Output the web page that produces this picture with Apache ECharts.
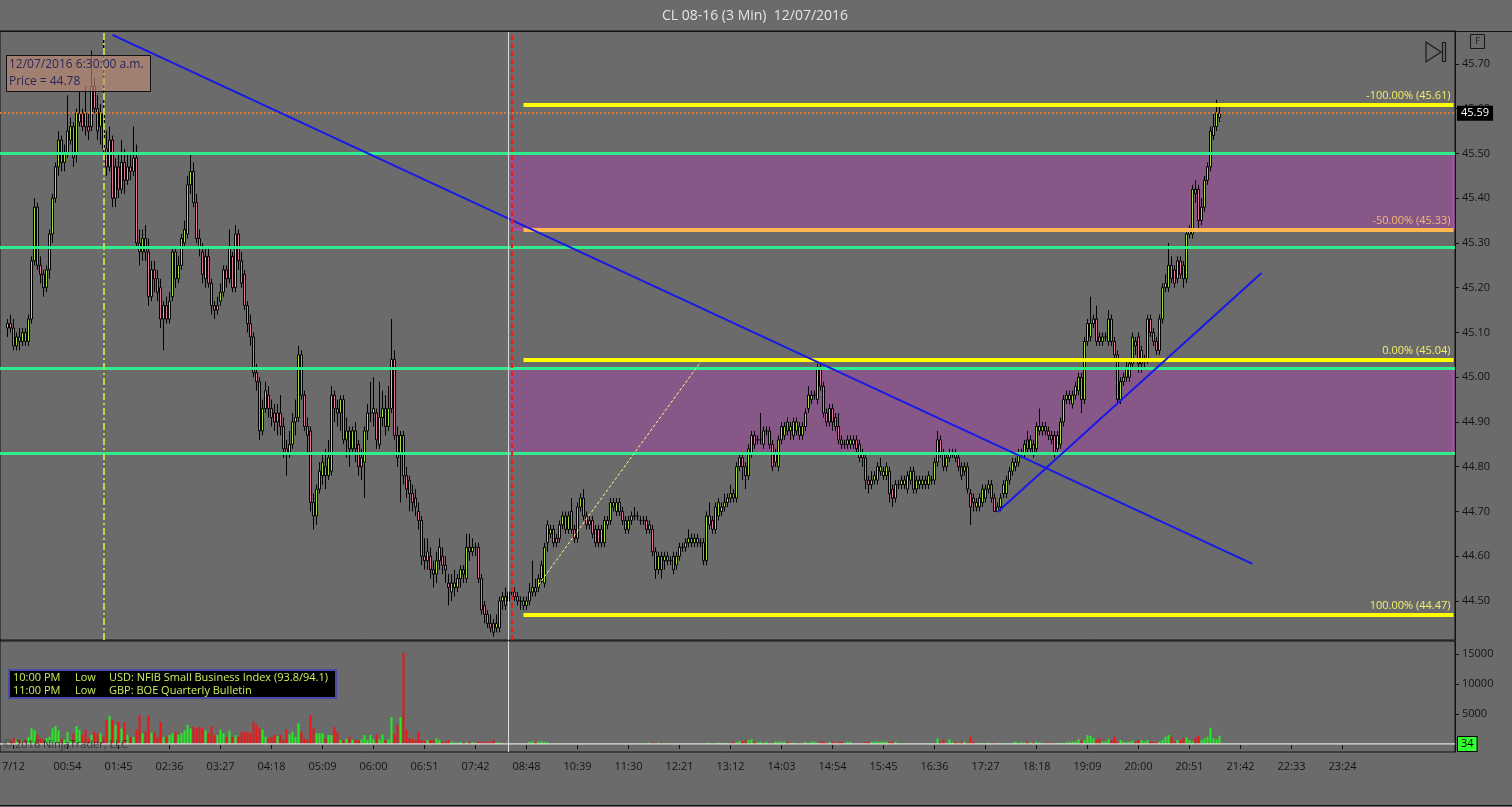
<!DOCTYPE html>
<html><head><meta charset="utf-8">
<script src="https://cdn.jsdelivr.net/npm/echarts@6/dist/echarts.min.js"></script>
<style>html,body{margin:0;padding:0;background:#6b6b6b;}#c{width:1512px;height:807px;}</style>
</head><body><div id="c"></div>
<script>
// ---------- data ----------
const FIRST_BAR = 2;      // index of first bar on the category axis
const BAR_SLOTS = 485;    // number of 3-min slots across the chart
const tickLabels = ['7/12','00:54','01:45','02:36','03:27','04:18','05:09','06:00','06:51','07:42','08:48','10:39','11:30','12:21','13:12','14:03','14:54','15:45','16:36','17:27','18:18','19:09','20:00','20:51','21:42','22:33','23:24'];
const priceTicks = [44.5,44.6,44.7,44.8,44.9,45.0,45.1,45.2,45.3,45.4,45.5,45.6,45.7];
const volumeTicks = [5000,10000,15000];

const opens = [
45.11,45.12,45.11,45.07,45.09,45.08,45.10,45.08,45.13,45.26,
45.38,45.25,45.23,45.20,45.24,45.32,45.40,45.47,45.53,45.48,
45.50,45.53,45.56,45.50,45.57,45.59,45.59,45.56,45.56,45.65,
45.60,45.56,45.59,45.51,45.47,45.53,45.40,45.47,45.42,45.48,
45.44,45.47,45.46,45.49,45.30,45.28,45.31,45.28,45.18,45.24,
45.22,45.20,45.13,45.16,45.13,45.18,45.28,45.22,45.25,45.30,
45.32,45.43,45.46,45.39,45.31,45.28,45.22,45.27,45.21,45.16,
45.15,45.17,45.19,45.24,45.22,45.27,45.20,45.32,45.26,45.23,
45.16,45.12,45.09,45.01,44.99,44.88,44.93,44.96,44.93,44.92,
44.90,44.92,44.89,44.84,44.83,44.85,44.90,44.91,45.05,44.96,
44.89,44.88,44.72,44.69,44.75,44.78,44.80,44.78,44.79,44.96,
44.93,44.92,44.95,44.86,44.88,44.84,44.88,44.85,44.80,44.81,
44.88,44.92,44.92,44.92,44.85,44.91,44.93,44.89,44.93,45.04,
44.87,44.83,44.87,44.78,44.77,44.74,44.73,44.70,44.68,44.60,
44.59,44.60,44.57,44.56,44.59,44.60,44.58,44.54,44.52,44.53,
44.53,44.55,44.57,44.55,44.62,44.61,44.62,44.62,44.55,44.49,
44.47,44.45,44.45,44.44,44.44,44.50,44.51,44.50,44.52,44.52,
44.51,44.50,44.50,44.49,44.50,44.52,44.53,44.53,44.55,44.54,
44.63,44.65,44.66,44.64,44.64,44.67,44.69,44.66,44.70,44.66,
44.64,44.71,44.73,44.69,44.67,44.68,44.66,44.66,44.63,44.63,
44.67,44.68,44.72,44.70,44.72,44.70,44.68,44.66,44.68,44.69,
44.69,44.68,44.68,44.68,44.66,44.66,44.61,44.57,44.60,44.59,
44.60,44.59,44.60,44.58,44.60,44.62,44.62,44.63,44.64,44.63,
44.64,44.63,44.63,44.59,44.67,44.68,44.66,44.69,44.70,44.71,
44.72,44.73,44.74,44.73,44.80,44.82,44.80,44.78,44.83,44.87,
44.86,44.86,44.85,44.88,44.88,44.85,44.81,44.80,44.86,44.87,
44.90,44.88,44.87,44.88,44.89,44.87,44.89,44.93,44.95,44.96,
44.95,45.02,44.98,44.92,44.90,44.93,44.91,44.89,44.86,44.85,
44.85,44.85,44.85,44.86,44.85,44.83,44.82,44.77,44.76,44.77,
44.77,44.79,44.78,44.78,44.79,44.75,44.73,44.76,44.76,44.76,
44.75,44.77,44.79,44.75,44.76,44.76,44.77,44.76,44.77,44.77,
44.81,44.86,44.83,44.80,44.82,44.83,44.83,44.82,44.80,44.79,
44.80,44.74,44.73,44.71,44.71,44.72,44.73,44.75,44.76,44.73,
44.70,44.71,44.74,44.74,44.77,44.79,44.80,44.81,44.83,44.83,
44.86,44.84,44.85,44.84,44.88,44.88,44.89,44.88,44.87,44.87,
44.84,44.85,44.90,44.95,44.95,44.94,44.96,44.97,45.00,44.95,
45.08,45.09,45.12,45.13,45.09,45.08,45.09,45.08,45.13,45.08,
45.05,44.95,44.99,45.00,45.00,45.03,45.08,45.09,45.03,45.04,
45.04,45.13,45.10,45.08,45.06,45.13,45.20,45.20,45.25,45.24,
45.22,45.26,45.25,45.22,45.32,45.32,45.42,45.42,45.35,45.38,
45.44,45.47,45.54,45.56,45.58];

const closes = [
45.12,45.11,45.07,45.09,45.08,45.10,45.08,45.13,45.26,45.38,
45.25,45.23,45.20,45.24,45.32,45.40,45.47,45.53,45.48,45.50,
45.55,45.56,45.49,45.59,45.59,45.56,45.56,45.55,45.65,45.60,
45.55,45.59,45.51,45.47,45.53,45.40,45.47,45.42,45.48,45.44,
45.47,45.46,45.49,45.30,45.28,45.31,45.28,45.18,45.24,45.22,
45.19,45.13,45.16,45.13,45.17,45.28,45.22,45.25,45.31,45.33,
45.43,45.46,45.39,45.31,45.29,45.23,45.27,45.21,45.16,45.15,
45.16,45.19,45.24,45.22,45.29,45.20,45.32,45.26,45.21,45.16,
45.12,45.09,45.01,44.99,44.88,44.93,44.97,44.93,44.91,44.90,
44.92,44.89,44.84,44.83,44.85,44.90,44.91,45.05,44.96,44.89,
44.87,44.72,44.69,44.75,44.79,44.81,44.78,44.82,44.96,44.93,
44.92,44.95,44.86,44.88,44.84,44.88,44.84,44.80,44.82,44.88,
44.92,44.92,44.93,44.86,44.91,44.93,44.89,44.93,45.04,44.87,
44.82,44.87,44.78,44.75,44.74,44.72,44.71,44.68,44.60,44.59,
44.61,44.57,44.56,44.59,44.62,44.58,44.57,44.53,44.54,44.54,
44.55,44.57,44.56,44.62,44.61,44.62,44.62,44.55,44.48,44.47,
44.45,44.44,44.43,44.45,44.50,44.51,44.49,44.52,44.52,44.51,
44.50,44.50,44.49,44.50,44.52,44.53,44.52,44.55,44.58,44.62,
44.67,44.66,44.63,44.63,44.67,44.69,44.66,44.69,44.66,44.64,
44.71,44.73,44.69,44.67,44.68,44.65,44.63,44.63,44.66,44.68,
44.68,44.72,44.71,44.72,44.70,44.68,44.66,44.68,44.69,44.69,
44.69,44.68,44.68,44.66,44.67,44.61,44.57,44.60,44.57,44.60,
44.59,44.59,44.57,44.60,44.62,44.62,44.63,44.64,44.63,44.64,
44.63,44.63,44.59,44.69,44.69,44.66,44.71,44.72,44.71,44.72,
44.73,44.74,44.73,44.80,44.82,44.80,44.78,44.84,44.87,44.85,
44.86,44.86,44.88,44.88,44.85,44.80,44.83,44.86,44.89,44.89,
44.88,44.89,44.90,44.90,44.87,44.89,44.92,44.96,44.96,44.96,
45.02,44.98,44.92,44.90,44.93,44.90,44.89,44.86,44.85,44.85,
44.86,44.86,44.86,44.84,44.82,44.82,44.77,44.76,44.77,44.78,
44.80,44.80,44.79,44.80,44.74,44.73,44.76,44.76,44.77,44.77,
44.78,44.79,44.75,44.77,44.77,44.77,44.76,44.78,44.77,44.81,
44.86,44.83,44.80,44.82,44.83,44.83,44.82,44.80,44.78,44.80,
44.75,44.71,44.72,44.72,44.73,44.75,44.75,44.76,44.73,44.70,
44.71,44.73,44.76,44.77,44.79,44.81,44.81,44.83,44.83,44.85,
44.84,44.86,44.83,44.89,44.89,44.89,44.88,44.87,44.86,44.83,
44.87,44.90,44.95,44.96,44.96,44.96,44.98,45.00,44.95,45.08,
45.12,45.12,45.13,45.08,45.08,45.09,45.09,45.13,45.08,45.05,
44.95,44.99,45.00,45.02,45.03,45.09,45.07,45.03,45.06,45.04,
45.13,45.10,45.08,45.06,45.13,45.20,45.21,45.25,45.22,45.21,
45.26,45.23,45.22,45.32,45.33,45.42,45.41,45.35,45.38,45.44,
45.47,45.55,45.56,45.59,45.59];

const lows = [
45.09,45.10,45.06,45.06,45.06,45.07,45.07,45.07,45.12,45.25,
45.24,45.21,45.18,45.19,45.22,45.30,45.39,45.45,45.46,45.46,
45.49,45.52,45.47,45.48,45.56,45.55,45.54,45.53,45.55,45.59,
45.53,45.52,45.50,45.45,45.46,45.38,45.38,45.40,45.41,45.41,
45.43,45.44,45.45,45.29,45.25,45.26,45.26,45.16,45.17,45.19,
45.17,45.11,45.06,45.12,45.12,45.17,45.20,45.21,45.24,45.29,
45.31,45.41,45.38,45.30,45.27,45.21,45.20,45.20,45.14,45.13,
45.14,45.16,45.18,45.20,45.21,45.19,45.19,45.24,45.20,45.15,
45.10,45.07,45.00,44.97,44.86,44.87,44.92,44.91,44.89,44.88,
44.87,44.87,44.82,44.78,44.82,44.84,44.87,44.90,44.95,44.88,
44.83,44.70,44.66,44.67,44.74,44.76,44.75,44.77,44.78,44.90,
44.89,44.88,44.85,44.82,44.80,44.83,44.81,44.78,44.77,44.73,
44.86,44.90,44.89,44.84,44.84,44.89,44.87,44.88,44.92,44.86,
44.80,44.72,44.76,44.73,44.70,44.70,44.69,44.66,44.58,44.57,
44.57,44.55,44.53,44.54,44.57,44.56,44.54,44.49,44.50,44.51,
44.52,44.53,44.54,44.54,44.59,44.60,44.60,44.54,44.47,44.45,
44.44,44.43,44.42,44.43,44.43,44.48,44.48,44.49,44.51,44.50,
44.49,44.48,44.48,44.48,44.49,44.51,44.51,44.52,44.54,44.53,
44.61,44.64,44.62,44.62,44.63,44.66,44.65,44.65,44.65,44.63,
44.63,44.70,44.68,44.66,44.66,44.64,44.62,44.62,44.62,44.62,
44.66,44.67,44.70,44.69,44.69,44.67,44.65,44.65,44.67,44.68,
44.68,44.67,44.67,44.65,44.65,44.60,44.55,44.56,44.55,44.57,
44.58,44.58,44.56,44.57,44.59,44.61,44.61,44.62,44.62,44.62,
44.62,44.62,44.58,44.58,44.66,44.65,44.65,44.68,44.69,44.70,
44.71,44.72,44.72,44.72,44.79,44.77,44.75,44.77,44.82,44.84,
44.85,44.85,44.84,44.87,44.84,44.79,44.80,44.79,44.85,44.86,
44.87,44.86,44.86,44.87,44.86,44.86,44.88,44.92,44.94,44.95,
44.94,44.97,44.91,44.89,44.89,44.88,44.88,44.85,44.84,44.84,
44.84,44.84,44.84,44.83,44.81,44.80,44.75,44.74,44.75,44.76,
44.76,44.78,44.77,44.77,44.72,44.71,44.72,44.75,44.75,44.75,
44.74,44.76,44.74,44.74,44.75,44.75,44.75,44.75,44.76,44.76,
44.80,44.82,44.79,44.79,44.81,44.82,44.81,44.79,44.77,44.78,
44.74,44.67,44.70,44.70,44.70,44.71,44.72,44.74,44.72,44.70,
44.70,44.70,44.73,44.73,44.76,44.78,44.79,44.80,44.82,44.82,
44.83,44.83,44.82,44.83,44.87,44.87,44.87,44.86,44.85,44.82,
44.83,44.84,44.89,44.94,44.94,44.93,44.95,44.96,44.92,44.94,
45.07,45.08,45.11,45.07,45.07,45.07,45.08,45.07,45.07,45.04,
44.94,44.94,44.98,44.99,44.99,45.02,45.05,45.01,45.01,45.02,
45.03,45.09,45.07,45.05,45.05,45.12,45.19,45.19,45.21,45.20,
45.21,45.22,45.20,45.21,45.31,45.31,45.39,45.33,45.34,45.37,
45.43,45.46,45.53,45.55,45.57];

const highs = [
45.13,45.14,45.13,45.10,45.11,45.11,45.11,45.14,45.27,45.40,
45.39,45.27,45.24,45.25,45.33,45.41,45.48,45.55,45.54,45.52,
45.63,45.58,45.57,45.60,45.64,45.60,45.65,45.59,45.73,45.67,
45.63,45.61,45.76,45.55,45.56,45.54,45.49,45.50,45.53,45.51,
45.50,45.50,45.56,45.52,45.33,45.33,45.34,45.31,45.26,45.26,
45.24,45.22,45.17,45.18,45.19,45.29,45.29,45.27,45.32,45.35,
45.45,45.50,45.48,45.41,45.33,45.30,45.29,45.29,45.22,45.17,
45.18,45.21,45.25,45.25,45.33,45.28,45.34,45.33,45.28,45.24,
45.17,45.14,45.10,45.03,45.00,44.95,44.99,44.98,44.95,44.94,
44.94,44.96,44.91,44.86,44.88,44.92,44.95,45.07,45.06,44.97,
44.91,44.89,44.74,44.76,44.81,44.83,44.84,44.86,44.98,44.97,
44.95,44.96,44.96,44.91,44.89,44.89,44.90,44.86,44.84,44.89,
44.94,44.99,45.00,44.93,44.99,44.97,44.96,44.98,45.13,45.06,
44.89,44.88,44.88,44.80,44.78,44.76,44.75,44.72,44.69,44.64,
44.64,44.62,44.59,44.61,44.64,44.62,44.60,44.56,44.56,44.57,
44.56,44.58,44.58,44.65,44.65,44.64,44.63,44.63,44.56,44.50,
44.48,44.47,44.46,44.47,44.51,44.52,44.53,44.53,44.53,44.53,
44.52,44.51,44.51,44.51,44.54,44.59,44.55,44.56,44.59,44.63,
44.68,44.67,44.67,44.65,44.68,44.70,44.70,44.70,44.73,44.67,
44.72,44.74,44.75,44.70,44.69,44.69,44.67,44.67,44.67,44.69,
44.69,44.73,44.73,44.73,44.73,44.71,44.69,44.69,44.70,44.71,
44.70,44.69,44.69,44.69,44.68,44.67,44.62,44.61,44.61,44.61,
44.61,44.60,44.61,44.61,44.63,44.63,44.64,44.66,44.65,44.65,
44.65,44.64,44.64,44.70,44.72,44.69,44.72,44.73,44.72,44.74,
44.74,44.76,44.75,44.81,44.83,44.83,44.81,44.85,44.88,44.88,
44.87,44.92,44.89,44.89,44.89,44.86,44.84,44.87,44.90,44.90,
44.91,44.90,44.91,44.91,44.90,44.90,44.93,44.98,44.97,44.97,
45.03,45.03,44.99,44.93,44.94,44.94,44.92,44.92,44.87,44.86,
44.87,44.87,44.87,44.87,44.86,44.84,44.83,44.78,44.79,44.79,
44.81,44.82,44.80,44.81,44.80,44.76,44.77,44.77,44.78,44.78,
44.79,44.80,44.80,44.78,44.78,44.78,44.78,44.79,44.78,44.82,
44.88,44.87,44.84,44.83,44.84,44.84,44.84,44.83,44.81,44.81,
44.81,44.75,44.74,44.73,44.74,44.76,44.76,44.77,44.77,44.74,
44.72,44.74,44.77,44.78,44.80,44.82,44.82,44.84,44.84,44.86,
44.88,44.87,44.86,44.90,44.93,44.90,44.90,44.89,44.88,44.88,
44.88,44.91,44.96,44.97,44.97,44.97,44.99,45.01,45.01,45.09,
45.13,45.18,45.14,45.16,45.10,45.10,45.10,45.15,45.14,45.09,
45.06,45.00,45.01,45.04,45.04,45.10,45.09,45.10,45.07,45.05,
45.14,45.14,45.11,45.09,45.14,45.21,45.23,45.30,45.27,45.25,
45.27,45.27,45.26,45.33,45.34,45.43,45.44,45.43,45.40,45.45,
45.48,45.56,45.59,45.62,45.61];

const volumes = [
300,400,1000,700,700,700,700,1200,2600,2300,
1500,950,700,950,1200,2600,3000,2300,950,700,
2000,700,1800,3000,2400,1500,2400,950,1500,2050,
1800,1800,1200,4000,4700,4000,3200,3700,2600,3600,
1500,1200,1200,2400,4800,1800,2050,4700,1900,1900,
1200,3700,1200,1200,1500,1800,2050,1500,1800,2300,
3200,2600,2900,2600,2900,2600,2300,1800,3000,1500,
1500,2400,1800,1200,2200,1200,1500,1200,2050,2050,
2050,1800,3700,3200,2600,2400,1200,950,1200,1500,
1350,1500,670,2400,1600,2050,1200,3450,2050,950,
670,4800,2600,1800,1800,1800,950,1500,1500,2800,
2050,670,670,900,1200,670,670,670,780,1500,
670,1500,780,1600,780,1600,670,780,4500,1650,
3200,4500,15200,2300,950,950,670,2050,670,500,
670,670,670,950,670,400,400,670,400,300,
220,400,220,300,400,300,220,400,400,300,
400,300,670,300,220,150,100,60,40,30,
30,20,30,40,380,420,350,400,450,380,
300,30,20,20,30,20,20,30,20,20,
30,110,20,20,30,20,20,30,20,20,
30,20,20,30,20,20,30,20,20,30,
20,20,30,20,200,250,150,200,220,150,
30,20,20,30,20,20,30,20,20,30,
20,20,30,200,220,150,200,220,150,200,
30,20,390,300,500,400,670,670,800,390,
300,390,200,390,100,100,390,390,390,390,
390,150,220,50,50,50,390,200,390,390,
200,390,390,200,390,390,200,390,390,200,
390,390,50,50,50,50,390,390,390,390,
390,390,390,390,390,390,390,50,50,50,
50,50,50,50,50,50,50,50,50,50,
945,390,670,200,780,300,390,200,390,390,
200,1220,390,200,100,100,100,220,150,220,
100,100,100,100,100,222,390,222,300,222,
390,300,222,390,222,150,100,200,150,100,
150,200,100,300,390,390,390,780,670,670,
1500,1350,945,670,945,390,390,780,670,1220,
400,670,390,300,390,550,390,670,670,390,
670,390,390,300,390,670,1220,1500,1220,390,
670,670,1050,1100,670,390,1100,1350,670,945,
1220,2700,945,780,1350];

const greenLevels = [45.50, 45.29, 45.02, 44.83];
const fibLevels = [
  {label: '-100.00% (45.61)', price: 45.61, kind: 'yellow'},
  {label: '-50.00% (45.33)',  price: 45.33, kind: 'orange'},
  {label: '0.00% (45.04)',    price: 45.04, kind: 'yellow'},
  {label: '100.00% (44.47)',  price: 44.47, kind: 'yellow'}
];
const fibStartBar = 174;
const zones = [[45.50, 45.33], [45.02, 44.83]];
const zoneStartBar = 170;
const lastPrice = 45.59;
const lastVolume = 34;
const trendLines = [[[37, 45.765], [417, 44.583]], [[332, 44.699], [420, 45.233]]];
const fibAnchor = [[179, 44.536], [234, 45.043]];
const cursorBar = 34;
const sessionBar = 170;
const selectBar = 169;

// ---------- build ----------
const categories = Array.from({length: BAR_SLOTS}, (_, i) => String(i));
const labelAt = {};
tickLabels.forEach((t, k) => { labelAt[k === 0 ? 4 : 22 + 17 * (k - 1)] = t; });

const candles = categories.map((_, i) => {
  const k = i - FIRST_BAR;
  if (k < 0 || k >= closes.length) return '-';
  const o = opens[k], c = closes[k];
  return [o, c, Math.min(lows[k], o, c), Math.max(highs[k], o, c)];
});
const UP = '#a8e03a', DOWN = '#e0789c';
const volData = categories.map((_, i) => {
  const k = i - FIRST_BAR;
  if (k < 0 || k >= volumes.length) return '-';
  return {value: volumes[k], itemStyle: {color: closes[k] >= opens[k] ? '#22ee22' : '#ee1515'}};
});

const FONT = '"Open Sans", "Noto Sans", sans-serif';
const AX = '#141414';
const lastIdx = BAR_SLOTS - 1;

const priceLines = [];
greenLevels.forEach(v => priceLines.push({yAxis: v, lineStyle: {color: '#30ec8c', width: 3, type: 'solid'}}));
fibLevels.forEach(f => {
  const col = f.kind === 'yellow' ? '#ffff00' : '#ffb850';
  const tcol = f.kind === 'yellow' ? '#f2f06a' : '#f6b870';
  priceLines.push([
    {coord: [fibStartBar, f.price], lineStyle: {color: col, width: 4, type: 'solid'},
     label: {show: true, position: 'insideEndTop', formatter: f.label, color: tcol, fontSize: 11, fontFamily: FONT, distance: 3}},
    {coord: [lastIdx, f.price]}
  ]);
});
priceLines.push({yAxis: lastPrice, lineStyle: {color: '#e07830', width: 2, type: [2, 2]},
  label: {show: true, position: 'end', formatter: lastPrice.toFixed(2), color: '#fff', backgroundColor: '#000',
          padding: [2, 4, 2, 4], fontSize: 11, fontFamily: FONT, distance: 2}});
trendLines.forEach(t => priceLines.push([{coord: t[0], lineStyle: {color: '#1818e8', width: 2, type: 'solid'}}, {coord: t[1]}]));
priceLines.push([{coord: fibAnchor[0], lineStyle: {color: '#ffff80', width: 1, type: [3, 2]}}, {coord: fibAnchor[1]}]);
priceLines.push({xAxis: cursorBar, lineStyle: {color: '#b4dc48', width: 2, type: [7, 3, 2, 3]}});
priceLines.push({xAxis: selectBar, lineStyle: {color: '#d8d8d8', width: 1, type: 'solid'}});
priceLines.push({xAxis: sessionBar, lineStyle: {color: '#e02020', width: 2, type: [5, 3]}});

const zoneAreas = zones.map(z => [{xAxis: zoneStartBar, yAxis: z[0]}, {xAxis: lastIdx, yAxis: z[1]}]);

const chart = echarts.init(document.getElementById('c'), null, {renderer: 'canvas'});
chart.setOption({
  animation: false,
  backgroundColor: '#6b6b6b',
  grid: [
    {left: 0, right: 57, top: 31, height: 609, show: true, borderColor: '#111', borderWidth: 1, outerBoundsMode: 'none', containLabel: false},
    {left: 0, right: 57, top: 641, height: 111, show: true, borderColor: '#111', borderWidth: 1, outerBoundsMode: 'none', containLabel: false}
  ],
  xAxis: [
    {type: 'category', gridIndex: 0, data: categories, boundaryGap: true,
     axisLine: {show: false}, axisTick: {show: false}, axisLabel: {show: false}, splitLine: {show: false}},
    {type: 'category', gridIndex: 1, data: categories, boundaryGap: true,
     axisLine: {show: true, lineStyle: {color: '#111'}},
     axisTick: {show: true, alignWithLabel: true, length: 5, lineStyle: {color: '#111'}, interval: (i) => labelAt[i] !== undefined},
     axisLabel: {show: true, interval: (i) => labelAt[i] !== undefined, formatter: (v, i) => labelAt[i] || '',
                 color: AX, fontSize: 11, fontFamily: FONT, margin: 9},
     splitLine: {show: false}}
  ],
  yAxis: [
    {type: 'value', gridIndex: 0, position: 'right', min: 44.4128, max: 45.7737, scale: true,
     axisLine: {show: true, lineStyle: {color: '#111'}},
     axisTick: {show: true, length: 4, lineStyle: {color: '#111'}, customValues: priceTicks},
     axisLabel: {show: true, customValues: priceTicks, formatter: v => Number(v).toFixed(2), color: AX, fontSize: 11, fontFamily: FONT, margin: 7},
     splitLine: {show: false}},
    {type: 'value', gridIndex: 1, position: 'right', min: -1333, max: 17167,
     axisLine: {show: true, lineStyle: {color: '#111'}},
     axisTick: {show: true, length: 4, lineStyle: {color: '#111'}, customValues: volumeTicks},
     axisLabel: {show: true, customValues: volumeTicks, formatter: v => String(v), color: AX, fontSize: 11, fontFamily: FONT, margin: 7},
     splitLine: {show: false}}
  ],
  series: [
    {type: 'line', xAxisIndex: 0, yAxisIndex: 0, data: [], z: 1, silent: true,
     markArea: {silent: true, itemStyle: {color: '#875887', borderColor: '#b848b8', borderWidth: 2}, data: zoneAreas}},
    {type: 'candlestick', xAxisIndex: 0, yAxisIndex: 0, data: candles, barWidth: 2, z: 3,
     itemStyle: {color: UP, color0: DOWN, borderColor: '#000', borderColor0: '#000', borderColorDoji: '#000', borderWidth: 1}},
    {type: 'line', xAxisIndex: 0, yAxisIndex: 0, data: [], z: 6, silent: true,
     markLine: {silent: true, symbol: ['none', 'none'], label: {show: false}, animation: false, data: priceLines}},
    {type: 'bar', xAxisIndex: 1, yAxisIndex: 1, data: volData, barWidth: 2, z: 3},
    {type: 'line', xAxisIndex: 1, yAxisIndex: 1, data: [], z: 6, silent: true,
     markLine: {silent: true, symbol: ['none', 'none'], label: {show: false}, animation: false, data: [
       {yAxis: 0, lineStyle: {color: '#dcdcdc', width: 1.5, type: 'solid'},
        label: {show: true, position: 'end', formatter: String(lastVolume), color: '#000', backgroundColor: '#33ff33',
                borderColor: '#000', borderWidth: 1, padding: [2, 3, 1, 3], fontSize: 11, fontFamily: FONT, distance: 3}},
       {xAxis: selectBar, lineStyle: {color: '#e0e0e0', width: 1, type: 'solid'}}
     ]}}
  ],
  graphic: [
    {type: 'line', shape: {x1: 0, y1: 31.5, x2: 1512, y2: 31.5}, style: {stroke: '#111', lineWidth: 1}, z: 50},
    {type: 'line', shape: {x1: 0, y1: 805.5, x2: 1512, y2: 805.5}, style: {stroke: '#111', lineWidth: 1}, z: 50},
    {type: 'text', x: 755, y: 16, style: {text: 'CL 08-16 (3 Min)  12/07/2016', fill: '#e4e4e4', font: '14px ' + FONT, align: 'center', verticalAlign: 'middle'}, z: 50},
    {type: 'rect', shape: {x: 6.5, y: 55.5, width: 144, height: 36}, style: {fill: 'rgba(196,140,118,0.62)', stroke: '#111', lineWidth: 1}, z: 50},
    {type: 'text', x: 9, y: 65, style: {text: '12/07/2016 6:30:00 a.m.', fill: '#28285c', font: '12px ' + FONT, align: 'left', verticalAlign: 'middle'}, z: 51},
    {type: 'text', x: 9, y: 82, style: {text: 'Price = 44.78', fill: '#28285c', font: '12px ' + FONT, align: 'left', verticalAlign: 'middle'}, z: 51},
    {type: 'rect', shape: {x: 9, y: 670, width: 327, height: 28}, style: {fill: '#000', stroke: '#4a4aa8', lineWidth: 2}, z: 50},
    {type: 'text', x: 13, y: 678, style: {text: '10:00 PM', fill: '#c8f060', font: '11px ' + FONT, align: 'left', verticalAlign: 'middle'}, z: 51},
    {type: 'text', x: 75, y: 678, style: {text: 'Low', fill: '#c8f060', font: '11px ' + FONT, align: 'left', verticalAlign: 'middle'}, z: 51},
    {type: 'text', x: 109, y: 678, style: {text: 'USD: NFIB Small Business Index (93.8/94.1)', fill: '#c8f060', font: '11px ' + FONT, align: 'left', verticalAlign: 'middle'}, z: 51},
    {type: 'text', x: 13, y: 691, style: {text: '11:00 PM', fill: '#c8f060', font: '11px ' + FONT, align: 'left', verticalAlign: 'middle'}, z: 51},
    {type: 'text', x: 75, y: 691, style: {text: 'Low', fill: '#c8f060', font: '11px ' + FONT, align: 'left', verticalAlign: 'middle'}, z: 51},
    {type: 'text', x: 109, y: 691, style: {text: 'GBP: BOE Quarterly Bulletin', fill: '#c8f060', font: '11px ' + FONT, align: 'left', verticalAlign: 'middle'}, z: 51},
    {type: 'text', x: 3, y: 745, style: {text: '\u00A9 2016 NinjaTrader, LLC', fill: '#3a3a3a', font: '11px ' + FONT, align: 'left', verticalAlign: 'middle'}, z: 51},
    {type: 'rect', shape: {x: 1470.5, y: 34.5, width: 14, height: 14}, style: {fill: 'none', stroke: '#1a1a1a', lineWidth: 1}, z: 50},
    {type: 'text', x: 1477.5, y: 41.5, style: {text: 'F', fill: '#1a1a1a', font: '9px ' + FONT, align: 'center', verticalAlign: 'middle'}, z: 51},
    {type: 'polygon', shape: {points: [[1426, 42], [1441, 52], [1426, 62]]}, style: {fill: 'none', stroke: '#1a1a1a', lineWidth: 1.2}, z: 50},
    {type: 'rect', shape: {x: 1442.5, y: 42.5, width: 3, height: 19}, style: {fill: 'none', stroke: '#1a1a1a', lineWidth: 1.2}, z: 50}
  ]
});
</script>
</body></html>
